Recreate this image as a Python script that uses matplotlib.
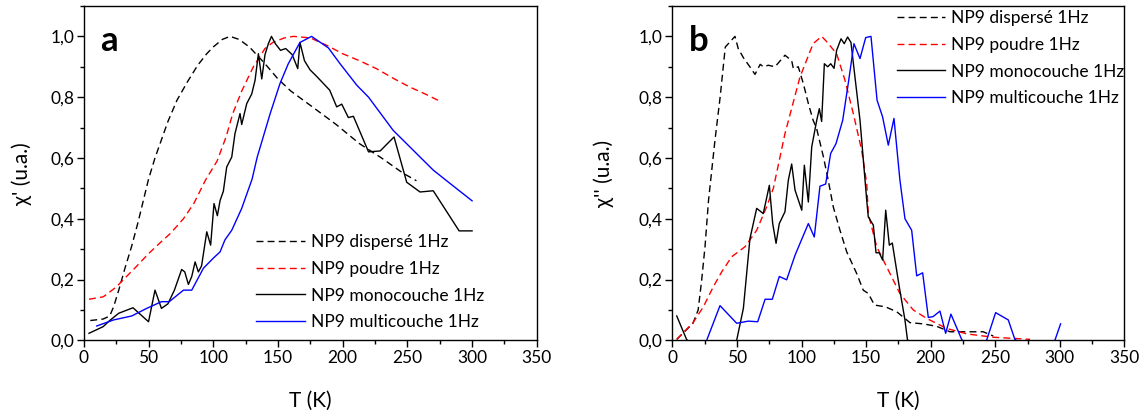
import matplotlib
matplotlib.use("Agg")
import matplotlib.pyplot as plt
from matplotlib.ticker import MultipleLocator, FuncFormatter

plt.rcParams['font.family'] = ['Lato', 'DejaVu Sans']

# ---------------- panel a : chi' ----------------
a_disp_T = [5, 15, 20, 23, 27, 32, 37, 42, 46, 50, 55, 60, 65, 72, 80, 88, 95,
            100, 107, 113, 120, 128, 140, 150, 160, 176, 195, 213, 230, 247, 257]
a_disp_y = [0.065, 0.07, 0.08, 0.11, 0.165, 0.24, 0.31, 0.39, 0.46, 0.53, 0.60,
            0.66, 0.72, 0.79, 0.85, 0.905, 0.943, 0.965, 0.99, 1.0, 0.99, 0.965,
            0.91, 0.86, 0.82, 0.77, 0.71, 0.647, 0.60, 0.549, 0.525]

a_poud_T = [4, 15, 25, 33, 40, 50, 60, 67, 77, 85, 94, 103, 110, 115, 122, 131,
            140, 146, 155, 162, 175, 188, 200, 213, 226, 240, 252, 264, 275]
a_poud_y = [0.135, 0.143, 0.175, 0.21, 0.24, 0.285, 0.325, 0.352, 0.40, 0.45,
            0.527, 0.59, 0.67, 0.745, 0.82, 0.90, 0.96, 0.98, 0.995, 1.0, 0.995,
            0.97, 0.943, 0.92, 0.894, 0.86, 0.833, 0.81, 0.787]

a_mono_T = [4, 15, 20, 27, 38, 50, 55, 60, 65, 70, 75.6, 78, 80.8, 83.4, 86,
            88.5, 91, 95, 98, 100.6, 103.2, 105.3, 107.8, 110.4, 114.3, 116.8,
            120.7, 122, 125.9, 129.7, 132.3, 134.9, 137.5, 140, 142.6, 145, 148,
            152, 156, 161, 165.3, 167, 170.5, 174.8, 180, 190, 195.4, 199.3,
            204.4, 208.3, 220, 229, 239.7, 249.5, 259.8, 270, 290, 300]
a_mono_y = [0.023, 0.045, 0.065, 0.089, 0.107, 0.061, 0.165, 0.105, 0.12, 0.165,
            0.233, 0.225, 0.184, 0.21, 0.258, 0.225, 0.245, 0.357, 0.313, 0.45,
            0.41, 0.46, 0.49, 0.57, 0.603, 0.68, 0.746, 0.71, 0.779, 0.81, 0.855,
            0.943, 0.86, 0.94, 0.976, 1.0, 0.976, 0.954, 0.96, 0.94, 0.894, 0.98,
            0.92, 0.89, 0.868, 0.823, 0.768, 0.777, 0.733, 0.737, 0.62, 0.623,
            0.669, 0.52, 0.488, 0.492, 0.36, 0.36]

a_mult_T = [10, 23, 37, 48.6, 60, 66, 77, 83.4, 92.4, 100, 105.3, 109, 114.3,
            122, 130, 134, 144, 151.6, 158, 167, 176, 189, 198, 211, 220, 239,
            270, 283, 300]
a_mult_y = [0.047, 0.067, 0.08, 0.105, 0.127, 0.127, 0.165, 0.165, 0.237, 0.27,
            0.291, 0.33, 0.362, 0.434, 0.53, 0.603, 0.746, 0.845, 0.91, 0.98, 1.0,
            0.962, 0.91, 0.839, 0.80, 0.691, 0.56, 0.516, 0.459]

# ---------------- panel b : chi'' ----------------
b_disp_T = [3.4, 16, 20, 22.7, 25.3, 28, 33, 37, 41, 48.5, 51, 55, 60, 64, 68,
            70.5, 74.3, 79.5, 87.2, 92.4, 93.7, 97.5, 101.4, 105.3, 109, 111.7,
            117, 121, 124.6, 129.8, 135, 142.7, 147.8, 151.7, 156.5, 165, 173.7,
            184, 194.3, 204.6, 215, 230, 240.7, 248.5]
b_disp_y = [0.003, 0.056, 0.10, 0.198, 0.308, 0.46, 0.658, 0.80, 0.965, 1.0,
            0.96, 0.93, 0.90, 0.875, 0.908, 0.90, 0.905, 0.90, 0.938, 0.92, 0.894,
            0.90, 0.845, 0.779, 0.724, 0.697, 0.603, 0.52, 0.439, 0.362, 0.291,
            0.22, 0.165, 0.154, 0.116, 0.11, 0.094, 0.058, 0.054, 0.046, 0.028,
            0.028, 0.028, 0.014]

b_poud_T = [3.4, 16, 24, 31.7, 38.2, 46, 56.3, 65.3, 73, 78.2, 87.2, 98.8, 109,
            115.6, 119, 127.2, 133.7, 140.1, 146.6, 150.5, 151.7, 158.2, 164.6,
            176.2, 186.5, 196.9, 212.4, 228, 248.5, 277]
b_poud_y = [0.003, 0.058, 0.11, 0.176, 0.225, 0.275, 0.308, 0.362, 0.439, 0.50,
            0.68, 0.866, 0.976, 1.0, 0.985, 0.943, 0.855, 0.746, 0.625, 0.516,
            0.417, 0.308, 0.253, 0.154, 0.10, 0.072, 0.039, 0.021, 0.01, 0.003]

b_mono_T = [3.4, 11, 25, 40, 49.8, 55, 60.1, 65.3, 70.4, 75.1, 77.7, 80.3, 82.8,
            87.2, 89.8, 92.4, 95, 100.2, 102.2, 105.3, 107.9, 111.8, 113.8, 115.6,
            117.7, 120.3, 122.6, 125.2, 127.2, 130.6, 133.1, 135.7, 138.3, 141.4,
            145.3, 150.5, 151.7, 155.6, 157.7, 160.2, 162.8, 165.2, 168, 170.3,
            175.7, 180.1, 182, 190]
b_mono_y = [0.08, 0.003, -0.05, -0.05, 0.0, 0.105, 0.335, 0.434, 0.417, 0.51,
            0.384, 0.319, 0.384, 0.423, 0.527, 0.58, 0.494, 0.428, 0.576, 0.455,
            0.636, 0.724, 0.762, 0.72, 0.91, 0.90, 0.91, 0.895, 0.954, 0.992,
            0.976, 0.998, 0.98, 0.866, 0.724, 0.461, 0.406, 0.379, 0.288, 0.288,
            0.264, 0.428, 0.313, 0.32, 0.176, 0.067, 0.003, -0.05]

b_mult_T = [26.6, 36.9, 49.8, 58.8, 66.1, 71.8, 77.4, 82.8, 88.5, 95, 105.3,
            109.9, 114.3, 118.7, 122.6, 126.7, 131.9, 136.2, 140.6, 145.3, 149.7,
            153.8, 158.5, 162.8, 167.2, 171.6, 176.2, 180.1, 185.3, 189.2, 193.8,
            198.2, 201.9, 207.2, 211.6, 215.7, 224, 233, 243.3, 250.3, 260.1,
            265.2, 280, 296.2, 300.6]
b_mult_y = [0.0, 0.114, 0.056, 0.063, 0.061, 0.135, 0.135, 0.21, 0.199, 0.28,
            0.384, 0.34, 0.507, 0.514, 0.615, 0.647, 0.724, 0.845, 0.976, 0.927,
            0.996, 1.0, 0.79, 0.735, 0.642, 0.73, 0.527, 0.40, 0.362, 0.212,
            0.222, 0.075, 0.078, 0.096, 0.023, 0.086, 0.003, -0.04, 0.0, 0.091,
            0.067, 0.003, -0.04, 0.0, 0.054]

labels = ["NP9 dispersé 1Hz", "NP9 poudre 1Hz",
          "NP9 monocouche 1Hz", "NP9 multicouche 1Hz"]

fig = plt.figure(figsize=(11.45, 4.16), dpi=100)
ax_a = fig.add_axes([0.0732, 0.182, 0.3956, 0.8036])
ax_b = fig.add_axes([0.5872, 0.182, 0.3948, 0.8036])

comma = FuncFormatter(lambda v, p: f"{v:.1f}".replace(".", ","))


def draw(ax, series, ylabel, letter, leg_anchor, ylab_x):
    styles = [dict(color="black", ls=(0, (5, 3))),
              dict(color="#ff0000", ls=(0, (5, 3))),
              dict(color="black", ls="-"),
              dict(color="#0000ff", ls="-")]
    for (T, y), st, lab in zip(series, styles, labels):
        ax.plot(T, y, lw=1.0, label=lab, **st)
    ax.set_xlim(0, 350)
    ax.set_ylim(0, 1.1)
    ax.xaxis.set_major_locator(MultipleLocator(50))
    ax.xaxis.set_minor_locator(MultipleLocator(25))
    ax.yaxis.set_major_locator(MultipleLocator(0.2))
    ax.yaxis.set_minor_locator(MultipleLocator(0.1))
    ax.yaxis.set_major_formatter(comma)
    ax.tick_params(which="major", direction="out", length=5, width=1,
                   labelsize=12.5, pad=2)
    ax.tick_params(which="minor", direction="out", length=3, width=1)
    for s in ax.spines.values():
        s.set_linewidth(1.0)
    ax.set_xlabel("T (K)", fontsize=15)
    ax.xaxis.set_label_coords(0.5, -0.15)
    ax.set_ylabel(ylabel, fontsize=15)
    ax.yaxis.set_label_coords(ylab_x, 0.5)
    ax.text(0.037, 0.865, letter, transform=ax.transAxes, fontsize=25,
            fontweight="bold", ha="left", va="baseline")
    ax.legend(loc="upper left", bbox_to_anchor=leg_anchor, frameon=False,
              fontsize=12.5, handlelength=2.8, handletextpad=0.35,
              labelspacing=0.62, borderpad=0, borderaxespad=0)


draw(ax_a, [(a_disp_T, a_disp_y), (a_poud_T, a_poud_y),
            (a_mono_T, a_mono_y), (a_mult_T, a_mult_y)],
     "χ' (u.a.)", "a", (0.381, 0.318), -0.115)
draw(ax_b, [(b_disp_T, b_disp_y), (b_poud_T, b_poud_y),
            (b_mono_T, b_mono_y), (b_mult_T, b_mult_y)],
     "χ'' (u.a.)", "b", (0.496, 0.988), -0.13)

fig.savefig("out.png", dpi=100)
